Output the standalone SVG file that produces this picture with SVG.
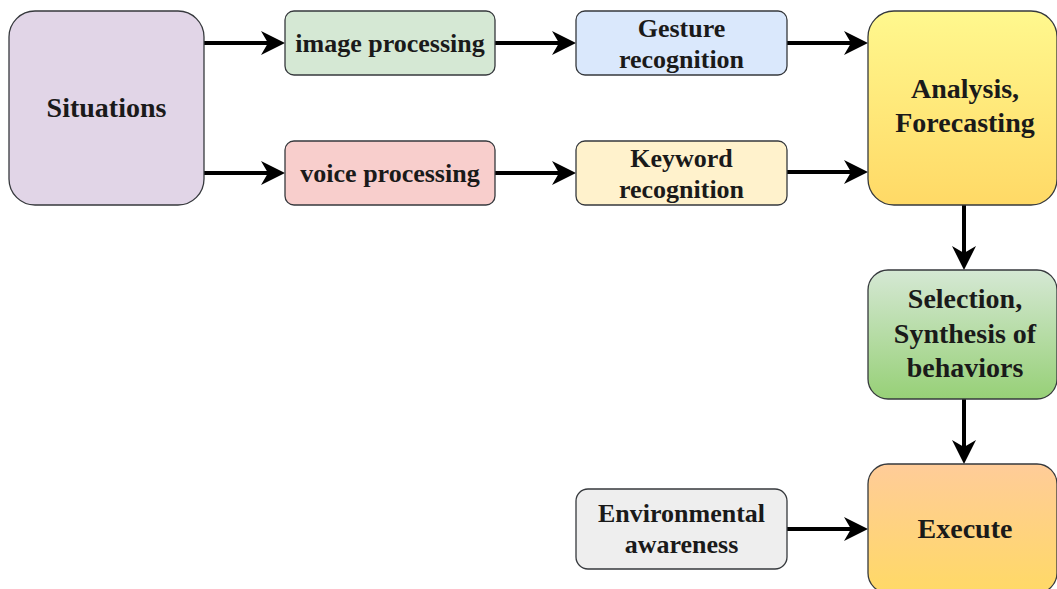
<svg xmlns="http://www.w3.org/2000/svg" width="1057" height="589" viewBox="0 0 1057 589">
<defs>
<linearGradient id="gA" x1="0" y1="0" x2="0" y2="1"><stop offset="0" stop-color="#fff88e"/><stop offset="1" stop-color="#ffd966"/></linearGradient>
<linearGradient id="gS" x1="0" y1="0" x2="0" y2="1"><stop offset="0" stop-color="#d5e8d4"/><stop offset="1" stop-color="#97d077"/></linearGradient>
<linearGradient id="gE" x1="0" y1="0" x2="0" y2="1"><stop offset="0" stop-color="#ffcc99"/><stop offset="1" stop-color="#ffd966"/></linearGradient>
<marker id="arr" markerUnits="userSpaceOnUse" viewBox="-12 -14 28 28" markerWidth="28" markerHeight="28" refX="0" refY="0" orient="auto">
<path d="M14,0 L-10,-12 L-3,0 L-10,12 Z" fill="#000"/>
</marker>
<style>
.n{stroke:#36393d;stroke-width:1.3}
.t{font-family:"Liberation Serif","Times New Roman",serif;font-weight:bold;fill:#1a1a1a;text-anchor:middle}
.s{font-size:26px}
.b{font-size:28px}
.c{fill:none;stroke:#000;stroke-width:4;marker-end:url(#arr)}
</style>
</defs>
<g id="connectors">
<path class="c" d="M204,43 H271"/>
<path class="c" d="M204,173 H271"/>
<path class="c" d="M495,43 H562"/>
<path class="c" d="M495,173 H562"/>
<path class="c" d="M787,43 H854"/>
<path class="c" d="M787,172 H854"/>
<path class="c" d="M964,205 V256"/>
<path class="c" d="M964,399 V450"/>
<path class="c" d="M787,529 H854"/>
</g>
<g id="situations">
<rect class="n" x="9" y="11" width="195" height="194" rx="26" fill="#e1d5e7"/>
<text class="t b" x="106.5" y="117">Situations</text>
</g>
<g id="image-processing">
<rect class="n" x="285" y="11" width="210" height="64" rx="9" fill="#d5e8d4"/>
<text class="t s" x="390" y="52">image processing</text>
</g>
<g id="voice-processing">
<rect class="n" x="285" y="141" width="210" height="64" rx="9" fill="#f8cecc"/>
<text class="t s" x="390" y="182">voice processing</text>
</g>
<g id="gesture-recognition">
<rect class="n" x="576" y="11" width="211" height="64" rx="9" fill="#dae8fc"/>
<text class="t s" x="681.5" y="36.5">Gesture</text>
<text class="t s" x="681.5" y="68">recognition</text>
</g>
<g id="keyword-recognition">
<rect class="n" x="576" y="141" width="211" height="64" rx="9" fill="#fff2cc"/>
<text class="t s" x="681.5" y="166.5">Keyword</text>
<text class="t s" x="681.5" y="198">recognition</text>
</g>
<g id="analysis">
<rect class="n" x="868" y="11" width="189" height="194" rx="26" fill="url(#gA)"/>
<text class="t b" x="965" y="98">Analysis,</text>
<text class="t b" x="965" y="132">Forecasting</text>
</g>
<g id="selection">
<rect class="n" x="868" y="270" width="189" height="129" rx="20" fill="url(#gS)"/>
<text class="t b" x="965" y="308">Selection,</text>
<text class="t b" x="965" y="343">Synthesis of</text>
<text class="t b" x="965" y="377">behaviors</text>
</g>
<g id="execute">
<rect class="n" x="868" y="464" width="189" height="129" rx="20" fill="url(#gE)"/>
<text class="t b" x="965" y="538">Execute</text>
</g>
<g id="environmental-awareness">
<rect class="n" x="576" y="489" width="211" height="80" rx="12" fill="#eeeeee"/>
<text class="t s" x="681.5" y="522">Environmental</text>
<text class="t s" x="681.5" y="553">awareness</text>
</g>
</svg>
